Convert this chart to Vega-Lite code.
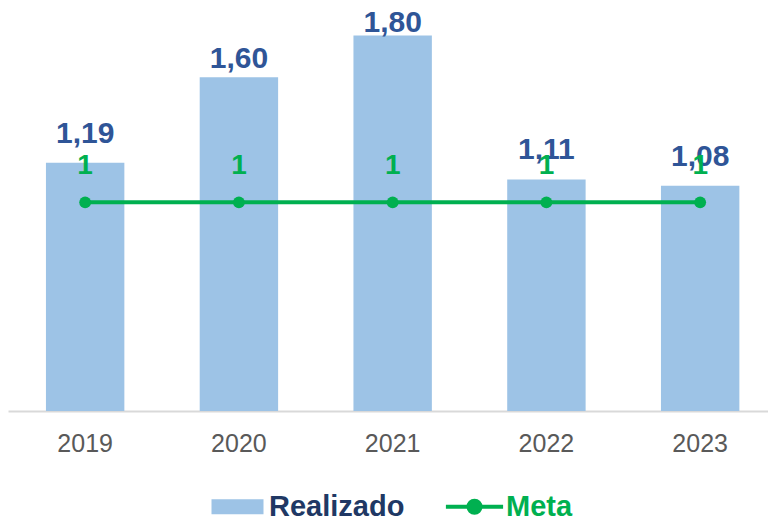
{
  "$schema": "https://vega.github.io/schema/vega-lite/v6.json",
  "autosize": {"type": "none"},
  "padding": {"left": 8, "top": 0, "right": 0, "bottom": 110},
  "width": 760,
  "height": 411,
  "config": {
    "view": {"stroke": null},
    "font": "Liberation Sans",
    "locale": {"number": {"decimal": ",", "thousands": ".", "grouping": [3], "currency": ["R$", ""]}}
  },
  "data": {
    "values": [
      {"ano": "2019", "realizado": 1.19, "meta": 1},
      {"ano": "2020", "realizado": 1.60, "meta": 1},
      {"ano": "2021", "realizado": 1.80, "meta": 1},
      {"ano": "2022", "realizado": 1.11, "meta": 1},
      {"ano": "2023", "realizado": 1.08, "meta": 1}
    ]
  },
  "encoding": {
    "x": {
      "field": "ano", "type": "nominal", "sort": null,
      "scale": {"paddingInner": 0.49, "paddingOuter": 0.2165, "align": 0.57},
      "axis": {
        "title": null, "labelAngle": 0, "ticks": false,
        "domainColor": "#D9D9D9", "domainWidth": 2,
        "labelColor": "#595959", "labelFont": "Liberation Sans", "labelFontSize": 25,
        "labelPadding": 20
      }
    }
  },
  "layer": [
    {
      "mark": {"type": "bar"},
      "encoding": {
        "y": {"field": "realizado", "type": "quantitative", "scale": {"domain": [0, 1.97], "nice": false, "zero": true}, "axis": null},
        "color": {
          "datum": "Realizado",
          "scale": {"domain": ["Realizado", "Meta"], "range": ["#9DC3E6", "#00B050"]},
          "legend": {
            "orient": "none", "legendX": 215, "legendY": 492, "direction": "horizontal",
            "title": null, "padding": 0,
            "symbolSize": 2704,
            "labelFont": "Liberation Sans", "labelFontSize": 29, "labelFontWeight": "bold",
            "labelOffset": 17, "columnPadding": 32,
            "encode": {
              "symbols": {"update": {
                "shape": {"signal": "datum.value === 'Meta' ? 'M-1.1,0H1.1M-0.23,0A0.23,0.23 0 1 1 0.23,0A0.23,0.23 0 1 1 -0.23,0Z' : 'M-1,-0.29H1V0.29H-1Z'"},
                "fill": {"signal": "datum.value === 'Meta' ? '#00B050' : '#9DC3E6'"},
                "stroke": {"signal": "datum.value === 'Meta' ? '#00B050' : '#9DC3E6'"},
                "strokeWidth": {"signal": "datum.value === 'Meta' ? 4 : 0"},
                "opacity": {"value": 1},
                "fillOpacity": {"value": 1},
                "strokeOpacity": {"value": 1}
              }},
              "labels": {"update": {
                "fill": {"signal": "datum.value === 'Meta' ? '#00B050' : '#203864'"}
              }}
            }
          }
        }
      }
    },
    {
      "mark": {
        "type": "text", "baseline": "alphabetic", "align": "center",
        "font": "Liberation Sans", "fontSize": 30, "fontWeight": "bold", "color": "#2F5597",
        "dy": {"expr": "datum.realizado > 1.7 ? -3 : datum.realizado > 1.3 ? -9 : -20"}
      },
      "encoding": {
        "y": {"field": "realizado", "type": "quantitative"},
        "text": {"field": "realizado", "type": "quantitative", "format": ".2f"}
      }
    },
    {
      "mark": {"type": "line", "strokeWidth": 4, "point": {"filled": true, "size": 140, "color": "#00B050"}},
      "encoding": {
        "y": {"field": "meta", "type": "quantitative"},
        "color": {"datum": "Meta"}
      }
    },
    {
      "mark": {
        "type": "text", "baseline": "alphabetic", "align": "center",
        "font": "Liberation Sans", "fontSize": 28, "fontWeight": "bold", "color": "#00B050",
        "dy": -28
      },
      "encoding": {
        "y": {"field": "meta", "type": "quantitative"},
        "text": {"field": "meta", "type": "quantitative", "format": "d"}
      }
    }
  ]
}
